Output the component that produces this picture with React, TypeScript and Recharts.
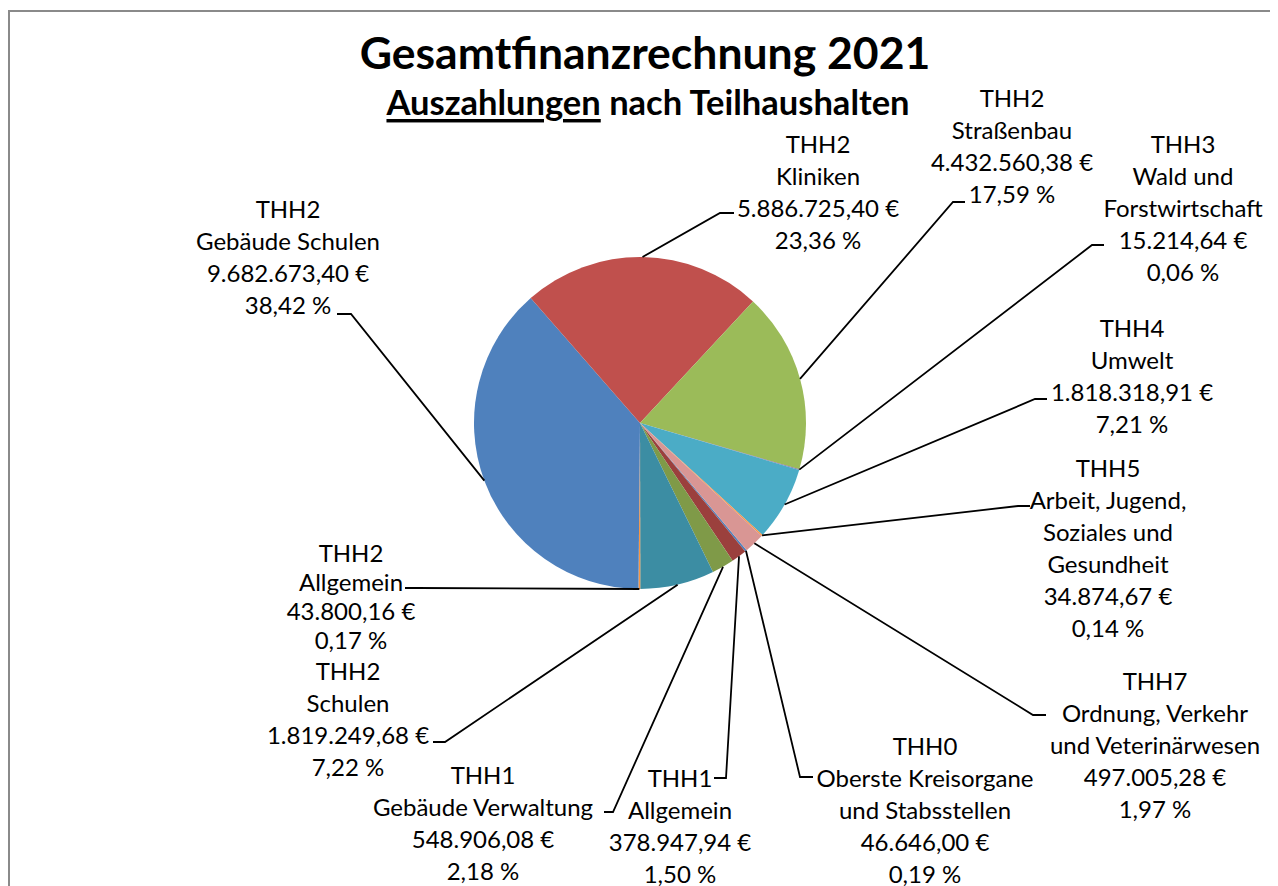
import React from 'react';
import { PieChart, Pie, Cell } from 'recharts';

// ---- data (in drawing order, Excel first slice angle 140°) ----
const GROUPS = ['THH0', 'THH1', 'THH1', 'THH2', 'THH2', 'THH2', 'THH2', 'THH2', 'THH3', 'THH4', 'THH5', 'THH7'];
const NAMES = [
  'Oberste Kreisorgane\nund Stabsstellen',
  'Allgemein',
  'Gebäude Verwaltung',
  'Schulen',
  'Allgemein',
  'Gebäude Schulen',
  'Kliniken',
  'Straßenbau',
  'Wald und\nForstwirtschaft',
  'Umwelt',
  'Arbeit, Jugend,\nSoziales und\nGesundheit',
  'Ordnung, Verkehr\nund Veterinärwesen',
];
const AMOUNTS = [
  46646.0, 378947.94, 548906.08, 1819249.68, 43800.16, 9682673.4,
  5886725.4, 4432560.38, 15214.64, 1818318.91, 34874.67, 497005.28,
];
const COLORS = [
  '#4F81BD', '#9B403D', '#7F9A48', '#3C8DA3', '#F79646', '#4F81BD',
  '#C0504D', '#9BBB59', '#8064A2', '#4BACC6', '#F79646', '#D99694',
];
const TITLE = 'Gesamtfinanzrechnung 2021';
const SUBTITLE_UNDERLINED = 'Auszahlungen';
const SUBTITLE_REST = ' nach Teilhaushalten';

const data = AMOUNTS.map((v, i) => ({ group: GROUPS[i], name: NAMES[i], value: v }));

// ---- layout of manually placed data labels (offsets from pie centre) ----
// tx,ty: centre of first text line; ex,ey: leader elbow; hx: end of short horizontal; lh: line height
const LABEL_LAYOUT = [
  { tx: 285, ty: 322, ex: 160, ey: 354, hx: 173, lh: 32 },
  { tx: 40, ty: 354, ex: 86, ey: 355, hx: 74, lh: 32 },
  { tx: -157, ty: 351, ex: -27, ey: 389, hx: -36, lh: 32 },
  { tx: -292, ty: 247, ex: -195, ey: 319, hx: -207, lh: 32 },
  { tx: -289, ty: 129, ex: -224, ey: 165, hx: -235, lh: 29 },
  { tx: -352, ty: -215, ex: -289, ey: -109, hx: -303, lh: 32 },
  { tx: 178, ty: -280, ex: 80, ey: -210, hx: 94, lh: 32 },
  { tx: 372, ty: -326, ex: 313, ey: -221, hx: 325, lh: 32 },
  { tx: 543, ty: -280, ex: 452, ey: -178, hx: 464, lh: 32 },
  { tx: 492, ty: -96, ex: 395, ey: -24, hx: 407, lh: 32 },
  { tx: 468, ty: 44, ex: 378, ey: 83, hx: 390, lh: 32 },
  { tx: 515, ty: 257, ex: 393, ey: 292, hx: 406, lh: 32 },
];

const FONT = 'Lato, "Open Sans", sans-serif';

function formatEuro(v: number): string {
  const fixed = v.toFixed(2);
  const [intPart, dec] = fixed.split('.');
  const withDots = intPart.replace(/\B(?=(\d{3})+(?!\d))/g, '.');
  return `${withDots},${dec} €`;
}

const RAD = Math.PI / 180;

const renderLabel = (props: any) => {
  const { cx, cy, midAngle, outerRadius, index, percent, payload } = props;
  const L = LABEL_LAYOUT[index];
  const px = cx + outerRadius * Math.cos(-midAngle * RAD);
  const py = cy + outerRadius * Math.sin(-midAngle * RAD);
  const ex = cx + L.ex;
  const ey = cy + L.ey;
  const hx = cx + L.hx;
  const lines = [
    payload.group,
    ...String(payload.name).split('\n'),
    formatEuro(payload.value),
    `${(percent * 100).toFixed(2).replace('.', ',')} %`,
  ];
  return (
    <g key={`lbl-${index}`}>
      <polyline
        points={`${px},${py} ${ex},${ey} ${hx},${ey}`}
        fill="none"
        stroke="#000"
        strokeWidth={1.8}
      />
      {lines.map((t, j) => (
        <text
          key={j}
          x={cx + L.tx}
          y={cy + L.ty + j * L.lh}
          textAnchor="middle"
          dominantBaseline="central"
          fontFamily={FONT}
          fontSize={24}
          fill="#000"
        >
          {t}
        </text>
      ))}
    </g>
  );
};

export default function App() {
  const W = 1270;
  const H = 878;
  return (
    <div style={{ position: 'relative', width: W, height: H, overflow: 'hidden', background: '#fff' }}>
      <div
        style={{
          position: 'absolute',
          left: 0,
          top: 2,
          width: 1264,
          height: 900,
          border: '2px solid #8a8a8a',
          boxSizing: 'border-box',
        }}
      />
      <svg width={W} height={H} style={{ position: 'absolute', left: 0, top: 0 }}>
        <text
          x={637}
          y={43}
          textAnchor="middle"
          dominantBaseline="central"
          fontFamily={FONT}
          fontWeight={700}
          fontSize={44.5}
          fill="#000"
        >
          {TITLE}
        </text>
        <text
          x={640}
          y={93}
          textAnchor="middle"
          dominantBaseline="central"
          fontFamily={FONT}
          fontWeight={700}
          fontSize={34.5}
          fill="#000"
        >
          <tspan style={{ textDecoration: 'underline' }}>{SUBTITLE_UNDERLINED}</tspan>
          <tspan>{SUBTITLE_REST}</tspan>
        </text>
      </svg>
      <div style={{ position: 'absolute', left: 0, top: 0 }}>
        <PieChart width={W} height={H} margin={{ top: 0, right: 0, bottom: 0, left: 0 }}>
          <Pie
            data={data}
            dataKey="value"
            nameKey="name"
            cx={632}
            cy={415}
            outerRadius={166}
            startAngle={-50}
            endAngle={-410}
            stroke="none"
            label={renderLabel}
            labelLine={false}
            isAnimationActive={false}
          >
            {data.map((_, i) => (
              <Cell key={i} fill={COLORS[i]} />
            ))}
          </Pie>
        </PieChart>
      </div>
    </div>
  );
}
